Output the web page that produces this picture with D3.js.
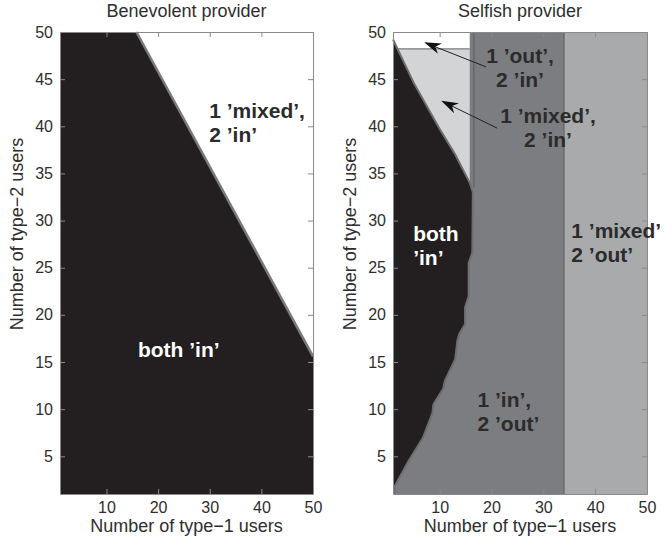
<!DOCTYPE html>
<html>
<head>
<meta charset="utf-8">
<script src="https://cdn.jsdelivr.net/npm/d3@7"></script>
<style>
  body { margin: 0; background: #fff; }
  svg { font-family: "Liberation Sans", Arial, sans-serif; }
  .axis path, .axis line { stroke: #8a8a8a; }
  .axis text { font-size: 16px; fill: #2e2e2e; }
  .region-label { font-size: 21px; font-weight: bold; }
</style>
</head>
<body>
<svg id="chart" width="664" height="546"></svg>
<script>
// data (both axes run over 1..50 users)
const xDomain = [1, 50];
const yDomain = [1, 50];
const xTicks = [10, 20, 30, 40, 50];
const yTicks = [5, 10, 15, 20, 25, 30, 35, 40, 45, 50];
const titles = ["Benevolent provider", "Selfish provider"];

// benevolent: edge of the 'both in' region
const benevolentBoundary = [[15.8, 50], [50, 15.6]];

// selfish: edge of the 'both in' region, from bottom to top-left
const selfishBoundary = [
  [1.3, 1], [1.3, 1.8], [4, 4.5], [6.8, 7], [8.2, 9], [8.6, 9.6], [8.8, 10.5],
  [10.7, 12.2], [11, 13], [13, 15.3], [13.4, 17.2], [13.8, 18], [14.9, 19],
  [14.9, 20.8], [15.6, 22], [15.6, 25.5], [16.3, 26.6], [16.4, 33], [15.8, 34],
  [13, 37], [10, 39.7], [5, 44.6], [1, 49.2]
];
const mixedInBox = { x0: 1, x1: 15.8, y0: 34, y1: 48.2 };   // 1 'mixed', 2 'in'
const outInBox = { x0: 1, x1: 15.8, y0: 48.2, y1: 50 };     // 1 'out', 2 'in'
const inOutEdge = 16.6;                                     // left edge of 1 'in', 2 'out'
const mixedOutEdge = 34;                                    // 1 'mixed', 2 'out' starts here

const svg = d3.select("#chart");

const panels = [
  { left: 60, right: 313 },
  { left: 393, right: 647 }
].map(p => ({
  ...p,
  x: d3.scaleLinear().domain(xDomain).range([p.left, p.right]),
  y: d3.scaleLinear().domain(yDomain).range([494, 32])
}));

const line = (x, y) => d3.line().x(d => x(d[0])).y(d => y(d[1]));

// ---- left panel
{
  const { x, y } = panels[0];
  svg.append("rect")
    .attr("x", x(1)).attr("y", y(50))
    .attr("width", x(50) - x(1)).attr("height", y(1) - y(50))
    .attr("fill", "#fff");

  const poly = [[1, 1], [1, 50], ...benevolentBoundary, [50, 1]];
  svg.append("path")
    .attr("d", line(x, y)(poly) + "Z")
    .attr("fill", "#231f20");

  svg.append("path")
    .attr("d", line(x, y)(benevolentBoundary))
    .attr("fill", "none")
    .attr("stroke", "#7a7a7c")
    .attr("stroke-width", 2.5);
}

// ---- right panel
{
  const { x, y } = panels[1];
  svg.append("rect")
    .attr("x", x(1)).attr("y", y(50))
    .attr("width", x(50) - x(1)).attr("height", y(1) - y(50))
    .attr("fill", "#7c7d80");

  svg.append("rect")
    .attr("x", x(mixedOutEdge)).attr("y", y(50))
    .attr("width", x(50) - x(mixedOutEdge)).attr("height", y(1) - y(50))
    .attr("fill", "#a9aaac");
  svg.append("line")
    .attr("x1", x(mixedOutEdge)).attr("x2", x(mixedOutEdge))
    .attr("y1", y(1)).attr("y2", y(50))
    .attr("stroke", "#5c5d5f").attr("stroke-width", 1);

  svg.append("rect")
    .attr("x", x(mixedInBox.x0)).attr("y", y(mixedInBox.y1))
    .attr("width", x(mixedInBox.x1) - x(mixedInBox.x0))
    .attr("height", y(mixedInBox.y0) - y(mixedInBox.y1))
    .attr("fill", "#d3d4d6");

  svg.append("rect")
    .attr("x", x(outInBox.x0)).attr("y", y(outInBox.y1))
    .attr("width", x(outInBox.x1) - x(outInBox.x0))
    .attr("height", y(outInBox.y0) - y(outInBox.y1))
    .attr("fill", "#fff");
  svg.append("line")
    .attr("x1", x(outInBox.x0)).attr("x2", x(outInBox.x1))
    .attr("y1", y(outInBox.y0)).attr("y2", y(outInBox.y0))
    .attr("stroke", "#7a7a7c").attr("stroke-width", 1.2);

  svg.append("line")
    .attr("x1", x(inOutEdge)).attr("x2", x(inOutEdge))
    .attr("y1", y(33.5)).attr("y2", y(50))
    .attr("stroke", "#5f6062").attr("stroke-width", 1.2);

  const poly = [[1, 1], ...selfishBoundary];
  svg.append("path")
    .attr("d", line(x, y)(poly) + "Z")
    .attr("fill", "#231f20");
  svg.append("path")
    .attr("d", line(x, y)(selfishBoundary))
    .attr("fill", "none")
    .attr("stroke", "#6d6e70")
    .attr("stroke-width", 2);
}

// ---- axes, box, titles
panels.forEach((p, i) => {
  const { x, y } = p;
  svg.append("g").attr("class", "axis")
    .attr("transform", `translate(0,${y(1)})`)
    .call(d3.axisBottom(x).tickValues(xTicks).tickSizeInner(-5).tickSizeOuter(0).tickPadding(8));
  svg.append("g").attr("class", "axis")
    .attr("transform", `translate(0,${y(50)})`)
    .call(d3.axisTop(x).tickValues(xTicks).tickSizeInner(-5).tickSizeOuter(0).tickFormat(""));
  svg.append("g").attr("class", "axis")
    .attr("transform", `translate(${x(1)},0)`)
    .call(d3.axisLeft(y).tickValues(yTicks).tickSizeInner(-5).tickSizeOuter(0).tickPadding(7));
  svg.append("g").attr("class", "axis")
    .attr("transform", `translate(${x(50)},0)`)
    .call(d3.axisRight(y).tickValues(yTicks).tickSizeInner(-5).tickSizeOuter(0).tickFormat(""));

  svg.append("text")
    .attr("x", (p.left + p.right) / 2)
    .attr("y", 17)
    .attr("text-anchor", "middle")
    .style("font-size", "18px")
    .attr("fill", "#2e2e2e")
    .text(titles[i]);

  svg.append("text")
    .attr("x", (p.left + p.right) / 2)
    .attr("y", 532)
    .attr("text-anchor", "middle")
    .style("font-size", "18px")
    .attr("fill", "#2e2e2e")
    .text("Number of type\u22121 users");

  svg.append("text")
    .attr("transform", `translate(${p.left - 37},234) rotate(-90)`)
    .attr("text-anchor", "middle")
    .style("font-size", "18px")
    .attr("fill", "#2e2e2e")
    .text("Number of type\u22122 users");
});

// ---- region labels
function label(panel, xv, yv, lines, anchor, color) {
  const { x, y } = panels[panel];
  const t = svg.append("text")
    .attr("class", "region-label")
    .attr("text-anchor", anchor)
    .attr("fill", color);
  lines.forEach((s, k) => {
    t.append("tspan")
      .attr("x", x(xv))
      .attr("y", y(yv) + k * 24)
      .text(s);
  });
}

label(0, 29.9, 40.9, ["1 \u2019mixed\u2019,", "2 \u2019in\u2019"], "start", "#2b2b2b");
label(0, 16.1, 15.5, ["both \u2019in\u2019"], "start", "#fff");
label(1, 25.5, 46.7, ["1 \u2019out\u2019,", "2 \u2019in\u2019"], "middle", "#2b2b2b");
label(1, 30.9, 40.3, ["1 \u2019mixed\u2019,", "2 \u2019in\u2019"], "middle", "#2b2b2b");
label(1, 4.9, 27.8, ["both", "\u2019in\u2019"], "start", "#fff");
label(1, 17.3, 10.2, ["1 \u2019in\u2019,", "2 \u2019out\u2019"], "start", "#2b2b2b");
label(1, 35.4, 28.2, ["1 \u2019mixed\u2019", "2 \u2019out\u2019"], "start", "#2b2b2b");

// ---- arrows (selfish panel), tail -> tip in data units
const arrows = [
  { from: [18.95, 46.3], to: [7.0, 48.9] },
  { from: [21.1, 39.8], to: [10.3, 42.7] }
];
{
  const { x, y } = panels[1];
  arrows.forEach(a => {
    const x0 = x(a.from[0]), y0 = y(a.from[1]);
    const x1 = x(a.to[0]), y1 = y(a.to[1]);
    const ang = Math.atan2(y1 - y0, x1 - x0);
    const L = 17, W = 5.5, notch = 12;
    const bx = x1 - L * Math.cos(ang), by = y1 - L * Math.sin(ang);
    const nx = x1 - notch * Math.cos(ang), ny = y1 - notch * Math.sin(ang);
    const px = -Math.sin(ang) * W, py = Math.cos(ang) * W;
    svg.append("line")
      .attr("x1", x0).attr("y1", y0).attr("x2", nx).attr("y2", ny)
      .attr("stroke", "#222").attr("stroke-width", 1);
    svg.append("path")
      .attr("d", `M${x1},${y1}L${bx + px},${by + py}L${nx},${ny}L${bx - px},${by - py}Z`)
      .attr("fill", "#111");
  });
}
</script>
</body>
</html>
